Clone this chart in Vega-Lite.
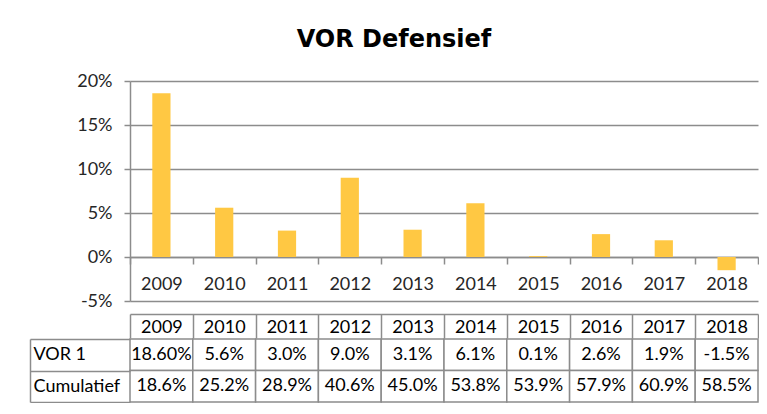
{
  "$schema": "https://vega.github.io/schema/vega-lite/v6.json",
  "padding": {"left": 29, "top": 28, "right": 0, "bottom": 0},
  "background": "white",
  "title": {"text": "VOR Defensief", "font": "DejaVu Sans", "fontSize": 24, "fontWeight": "bold", "color": "black", "anchor": "middle", "frame": "bounds", "offset": 20},
  "datasets": {
    "bars": [
      {"year": "2009", "vor": 18.6},
      {"year": "2010", "vor": 5.6},
      {"year": "2011", "vor": 3.0},
      {"year": "2012", "vor": 9.0},
      {"year": "2013", "vor": 3.1},
      {"year": "2014", "vor": 6.1},
      {"year": "2015", "vor": 0.1},
      {"year": "2016", "vor": 2.6},
      {"year": "2017", "vor": 1.9},
      {"year": "2018", "vor": -1.5}
    ],
    "table": [
      {"year": "2009", "row": "VOR 1", "text": "18.60%"},
      {"year": "2010", "row": "VOR 1", "text": "5.6%"},
      {"year": "2011", "row": "VOR 1", "text": "3.0%"},
      {"year": "2012", "row": "VOR 1", "text": "9.0%"},
      {"year": "2013", "row": "VOR 1", "text": "3.1%"},
      {"year": "2014", "row": "VOR 1", "text": "6.1%"},
      {"year": "2015", "row": "VOR 1", "text": "0.1%"},
      {"year": "2016", "row": "VOR 1", "text": "2.6%"},
      {"year": "2017", "row": "VOR 1", "text": "1.9%"},
      {"year": "2018", "row": "VOR 1", "text": "-1.5%"},
      {"year": "2009", "row": "Cumulatief", "text": "18.6%"},
      {"year": "2010", "row": "Cumulatief", "text": "25.2%"},
      {"year": "2011", "row": "Cumulatief", "text": "28.9%"},
      {"year": "2012", "row": "Cumulatief", "text": "40.6%"},
      {"year": "2013", "row": "Cumulatief", "text": "45.0%"},
      {"year": "2014", "row": "Cumulatief", "text": "53.8%"},
      {"year": "2015", "row": "Cumulatief", "text": "53.9%"},
      {"year": "2016", "row": "Cumulatief", "text": "57.9%"},
      {"year": "2017", "row": "Cumulatief", "text": "60.9%"},
      {"year": "2018", "row": "Cumulatief", "text": "58.5%"}
    ]
  },
  "spacing": -9,
  "vconcat": [
    {
      "width": 628,
      "height": 220,
      "data": {"name": "bars"},
      "layer": [
        {
          "mark": {"type": "bar", "width": {"band": 0.29}, "color": "#FFC843"},
          "encoding": {
            "x": {"field": "year", "type": "ordinal", "scale": {"paddingInner": 0, "paddingOuter": 0},
              "axis": {"orient": "bottom", "offset": -44, "title": null, "labelAngle": 0, "tickBand": "extent", "tickSize": 7, "tickColor": "#8c8c8c", "tickWidth": 1.5, "domainColor": "#8c8c8c", "domainWidth": 1.5, "labelPadding": 11, "labelFontSize": 18, "labelColor": "#262626", "labelFont": "Lato"}},
            "y": {"field": "vor", "type": "quantitative", "scale": {"domain": [-5, 20], "nice": false},
              "axis": {"values": [-5, 0, 5, 10, 15, 20], "labelExpr": "datum.value + '%'", "title": null, "grid": true, "gridColor": "#8c8c8c", "gridWidth": 1.5, "domainColor": "#8c8c8c", "domainWidth": 1.5, "tickColor": "#8c8c8c", "tickSize": 6, "tickWidth": 1.5, "labelPadding": 12, "labelFontSize": 18, "labelColor": "#262626", "labelFont": "Lato"}}
          }
        },
        {
          "mark": {"type": "point", "opacity": 0},
          "encoding": {
            "x": {"field": "year", "type": "ordinal",
              "axis": {"orient": "bottom", "offset": 13, "title": null, "labelAngle": 0, "tickBand": "extent", "tickSize": 24, "tickColor": "#8c8c8c", "tickWidth": 1.5, "domainColor": "#8c8c8c", "domainWidth": 1.5, "labelPadding": -20, "labelFontSize": 18, "labelColor": "black", "labelFont": "Lato"}}
          }
        }
      ],
      "resolve": {"axis": {"x": "independent"}}
    },
    {
      "width": 628,
      "height": 63,
      "data": {"name": "table"},
      "encoding": {
        "x": {"field": "year", "type": "ordinal", "scale": {"paddingInner": 0, "paddingOuter": 0}, "axis": null},
        "y": {"field": "row", "type": "nominal", "sort": ["VOR 1", "Cumulatief"], "scale": {"paddingInner": 0, "paddingOuter": 0},
          "axis": {"orient": "left", "offset": 100, "title": null, "tickBand": "extent", "tickSize": -100, "tickColor": "#8c8c8c", "tickWidth": 1.5, "domainColor": "#8c8c8c", "domainWidth": 1.5, "labelAlign": "left", "labelPadding": 97, "labelFontSize": 18, "labelColor": "black", "labelFont": "Lato"}}
      },
      "layer": [
        {"mark": {"type": "rect", "fill": "white", "stroke": "#8c8c8c", "strokeWidth": 1.5}},
        {"mark": {"type": "text", "fontSize": 18, "font": "Lato", "color": "black"}, "encoding": {"text": {"field": "text"}}}
      ]
    }
  ],
  "config": {"view": {"stroke": null}, "font": "Lato"}
}
